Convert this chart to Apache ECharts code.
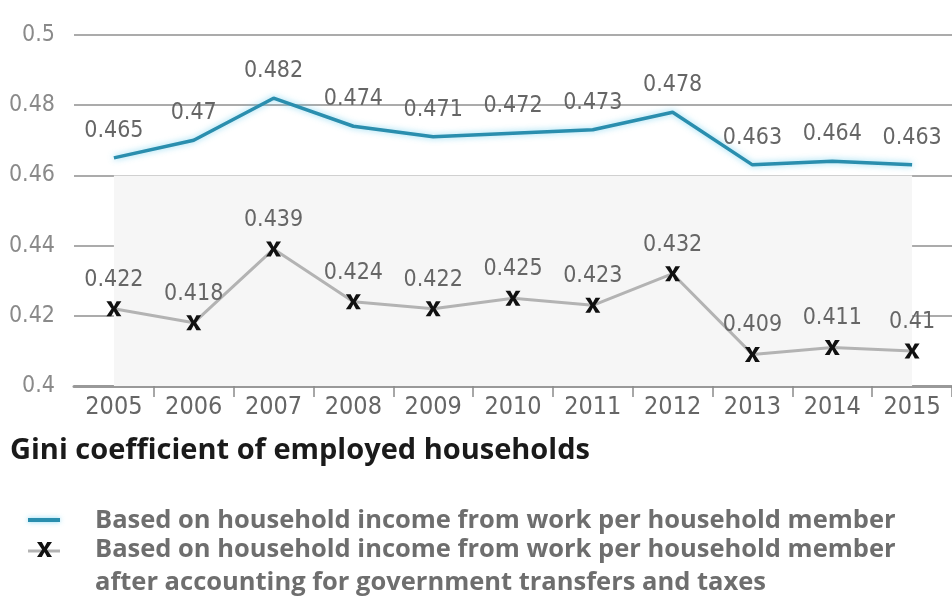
<!DOCTYPE html>
<html>
<head>
<meta charset="utf-8">
<script src="https://cdn.jsdelivr.net/npm/echarts@6/dist/echarts.min.js"></script>
<style>html,body{margin:0;padding:0;background:#fff}#c{width:952px;height:597px}</style>
</head>
<body>
<div id="c"></div>
<script>
var years = ['2005','2006','2007','2008','2009','2010','2011','2012','2013','2014','2015'];
var workIncome = [0.465,0.47,0.482,0.474,0.471,0.472,0.473,0.478,0.463,0.464,0.463];
var afterTransfers = [0.422,0.418,0.439,0.424,0.422,0.425,0.423,0.432,0.409,0.411,0.41];
var legendTitle = 'Gini coefficient of employed households';
var seriesNames = ['Based on household income from work per household member',
  'Based on household income from work per household member\nafter accounting for government transfers and taxes'];

var FAM = '"DejaVu Sans Condensed","Liberation Sans Narrow","Roboto",sans-serif';
var XPTS = [[0,0],[3.2,0],[5,3.4],[6.8,0],[10,0],[6.6,5],[10,10],[6.8,10],[5,6.6],[3.2,10],[0,10],[3.4,5]];
var XPATH = 'path://M' + XPTS.map(function (p) { return p[0] + ',' + p[1]; }).join(' L') + ' Z';
var legendX = XPTS.map(function (p) { return [37 + p[0] * 1.5, 542 + p[1] * 1.5]; });

var chart = echarts.init(document.getElementById('c'));
chart.setOption({
  animation: false,
  grid: {left: 74, right: -8, top: 35, bottom: 211},
  xAxis: {
    type: 'category', data: years, boundaryGap: true,
    axisLine: {lineStyle: {color: '#999', width: 3}},
    axisTick: {show: true, length: 11, interval: function (i) { return i > 0; }, lineStyle: {color: '#8a8a8a', width: 1.5}},
    axisLabel: {color: '#666', fontFamily: FAM, fontSize: 25, margin: 9}
  },
  yAxis: {
    type: 'value', min: 0.4, max: 0.5, interval: 0.02,
    axisLine: {show: false}, axisTick: {show: false},
    splitLine: {lineStyle: {color: '#ababab', width: 2}},
    axisLabel: {color: '#8a8a8a', fontFamily: FAM, fontSize: 23, margin: 19,
      formatter: function (v) { return String(+v.toFixed(2)); }}
  },
  series: [
    {
      name: seriesNames[0], type: 'line', data: workIncome,
      symbol: 'circle', symbolSize: 1, showAllSymbol: true,
      itemStyle: {color: 'rgba(0,0,0,0)'},
      lineStyle: {color: '#2a8eae', width: 3.5, shadowBlur: 6, shadowColor: 'rgba(90,200,235,0.7)'},
      label: {show: true, position: 'top', distance: 15, color: '#666', fontFamily: FAM, fontSize: 23},
      labelLayout: {hideOverlap: false},
      markArea: {silent: true, itemStyle: {color: '#f6f6f6'},
        data: [[{xAxis: years[0], yAxis: 0.4}, {xAxis: years[years.length - 1], yAxis: 0.46}]]},
      z: 3
    },
    {
      name: seriesNames[1], type: 'line', data: afterTransfers,
      symbol: XPATH, symbolSize: [15, 15], showAllSymbol: true,
      itemStyle: {color: '#111'},
      lineStyle: {color: '#b3b3b3', width: 3},
      label: {show: true, position: 'top', distance: 10, color: '#666', fontFamily: FAM, fontSize: 23},
      z: 4
    }
  ],
  graphic: [
    {type: 'text', left: 10, top: 436, style: {text: legendTitle, font: 'bold 29px "Open Sans",sans-serif', fill: '#1a1a1a'}},
    {type: 'line', shape: {x1: 28, y1: 520, x2: 60, y2: 520}, style: {stroke: '#2a8eae', lineWidth: 4, shadowBlur: 5, shadowColor: 'rgba(90,200,235,0.7)'}},
    {type: 'text', left: 95, top: 504, style: {text: seriesNames[0], font: 'bold 25.5px "Open Sans",sans-serif', fill: '#6e6e6e', lineHeight: 33}},
    {type: 'line', shape: {x1: 28, y1: 551, x2: 60, y2: 551}, style: {stroke: '#b3b3b3', lineWidth: 3}},
    {type: 'polygon', shape: {points: legendX}, style: {fill: '#111'}},
    {type: 'text', left: 95, top: 533, style: {text: seriesNames[1], font: 'bold 25.5px "Open Sans",sans-serif', fill: '#6e6e6e', lineHeight: 33}}
  ]
});
</script>
</body>
</html>
